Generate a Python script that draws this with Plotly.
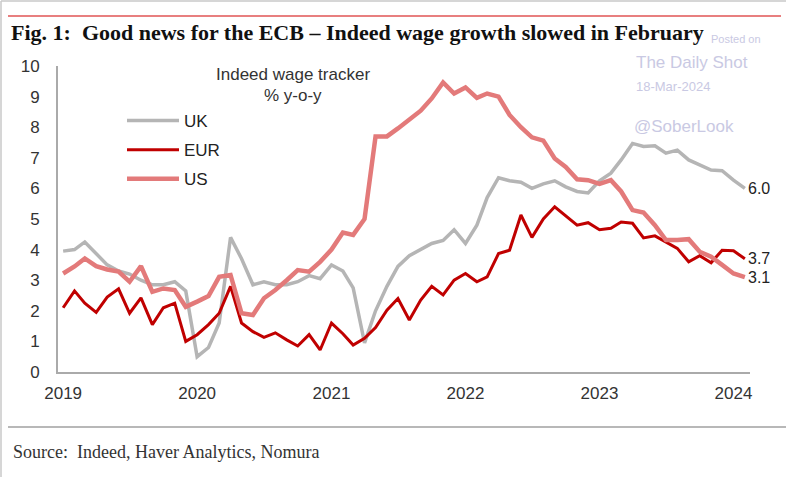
import pandas as pd
import plotly.graph_objects as go

# ---- data ----
dates = pd.date_range("2019-01-01", "2024-02-01", freq="MS")

uk = [3.95, 4.0, 4.25, 3.85, 3.5, 3.3, 3.2, 3.0, 2.85, 2.85, 2.95, 2.65,
      0.5, 0.8, 1.6, 4.4, 3.7, 2.85, 2.95, 2.85, 2.85, 2.95, 3.15, 3.05,
      3.5, 3.3, 2.75, 0.95, 2.0, 2.8, 3.45, 3.8, 4.0, 4.2, 4.3, 4.65,
      4.2, 4.8, 5.7, 6.35, 6.25, 6.2, 6.0, 6.15, 6.25, 6.05, 5.9, 5.85,
      6.25, 6.5, 6.93, 7.47, 7.37, 7.39, 7.15, 7.25, 6.93, 6.76, 6.6, 6.58,
      6.27, 6.0]

eur = [2.1, 2.65, 2.25, 1.95, 2.45, 2.72, 1.92, 2.42, 1.55, 2.1, 2.25, 1.0,
       1.22, 1.55, 1.92, 2.8, 1.6, 1.32, 1.13, 1.28, 1.05, 0.85, 1.22, 0.72,
       1.6, 1.25, 0.88, 1.1, 1.45, 2.02, 2.4, 1.7, 2.35, 2.8, 2.52, 3.0,
       3.22, 2.95, 3.11, 3.87, 3.98, 5.13, 4.4, 5.0, 5.4, 5.1, 4.8, 4.88,
       4.65, 4.7, 4.9, 4.86, 4.38, 4.45, 4.26, 4.04, 3.6, 3.8, 3.57, 3.98,
       3.96, 3.7]

us = [3.22, 3.45, 3.71, 3.46, 3.35, 3.28, 2.95, 3.46, 2.62, 2.73, 2.68, 2.13,
      2.3, 2.48, 3.11, 3.17, 1.92, 1.86, 2.41, 2.68, 3.0, 3.33, 3.28, 3.6,
      4.0, 4.56, 4.48, 5.0, 7.7, 7.7, 7.96, 8.24, 8.54, 8.94, 9.46, 9.1,
      9.3, 8.96, 9.1, 9.0, 8.4, 8.0, 7.67, 7.56, 6.98, 6.7, 6.3, 6.27,
      6.15, 6.27, 5.9, 5.29, 5.21, 4.8, 4.31, 4.31, 4.34, 3.93, 3.77, 3.5,
      3.22, 3.1]

series_names = ["UK", "EUR", "US"]
year_ticks = ["2019", "2020", "2021", "2022", "2023", "2024"]
y_ticks = list(range(0, 11))

title_text = "<b>Fig. 1:  Good news for the ECB – Indeed wage growth slowed in February</b>"
source_text = "Source:  Indeed, Haver Analytics, Nomura"

# ---- layout geometry (pixels) ----
W_FIG, H_FIG = 786, 477
L, R, T, B = 58, 750, 66, 372


def px(x):
    return (x - L) / (R - L)


def py(y):
    return (B - y) / (B - T)


colors = {"UK": "#b5b5b5", "EUR": "#c00000", "US": "#e37a7a"}
widths = {"UK": 3.5, "EUR": 3, "US": 4.5}
values = {"UK": uk, "EUR": eur, "US": us}

sans = "Liberation Sans"
serif = "Liberation Serif"

fig = go.Figure()
for name in series_names:
    fig.add_trace(go.Scatter(
        x=dates, y=values[name], mode="lines", name=name, legendgroup=name,
        line=dict(color=colors[name], width=widths[name]),
    ))

# end labels
for name in series_names:
    v = values[name][-1]
    fig.add_annotation(x=dates[-1], y=v, text=f"{v:.1f}", showarrow=False,
                       xanchor="left", yanchor="middle", xshift=1,
                       font=dict(family=sans, size=16, color="#222"))


def note(x, y, text, size, color, family=sans, xanchor="left"):
    fig.add_annotation(x=px(x), y=py(y), xref="paper", yref="paper", text=text,
                       showarrow=False, xanchor=xanchor, yanchor="middle",
                       font=dict(family=family, size=size, color=color))


# watermark
wm = "#c9c9e3"
note(709, 39, "Posted on", 11, wm)
note(634, 62, "The Daily Shot", 17, wm)
note(634, 86, "18-Mar-2024", 13, wm)
note(632, 127, "@SoberLook", 17, wm)

# chart sub-title
note(293, 74, "Indeed wage tracker", 17, "#333", xanchor="center")
note(293, 95, "% y-o-y", 17, "#333", xanchor="center")

# title and source
note(9, 33, title_text, 22, "#111", family=serif)
note(11, 452, source_text, 18, "#333", family=serif)

# decorative lines
shapes = [
    dict(type="line", xref="paper", yref="paper", x0=px(8), x1=px(781), y0=py(16), y1=py(16),
         line=dict(color="#e05555", width=1.5)),
    dict(type="line", xref="paper", yref="paper", x0=px(8), x1=px(786), y0=py(427), y1=py(427),
         line=dict(color="#a0a0a0", width=1.5)),
    dict(type="line", xref="paper", yref="paper", x0=px(1), x1=px(786), y0=py(1), y1=py(1),
         line=dict(color="#c8c8c8", width=1.5)),
    dict(type="line", xref="paper", yref="paper", x0=px(1), x1=px(1), y0=py(1), y1=py(477),
         line=dict(color="#c8c8c8", width=1.5)),
]

fig.update_layout(
    width=W_FIG, height=H_FIG,
    margin=dict(l=L, r=W_FIG - R, t=T, b=H_FIG - B, pad=0),
    paper_bgcolor="white", plot_bgcolor="white",
    shapes=shapes,
    showlegend=True,
    legend=dict(x=px(122), y=py(103), xanchor="left", yanchor="top",
                bgcolor="rgba(0,0,0,0)", tracegroupgap=4,
                font=dict(family=sans, size=17, color="#222"), itemwidth=52),
    xaxis=dict(
        range=["2018-12-18", "2024-02-15"],
        tickvals=[f"{y}-01-01" for y in year_ticks], ticktext=year_ticks,
        showgrid=False, zeroline=False, showline=True, linecolor="#aaaaaa", linewidth=2,
        ticks="", tickfont=dict(family=sans, size=17, color="#333"), ticklabelstandoff=5,
    ),
    yaxis=dict(
        range=[0, 10], tickvals=y_ticks,
        showgrid=False, zeroline=False, showline=True, linecolor="#aaaaaa", linewidth=2,
        ticks="", tickfont=dict(family=sans, size=17, color="#333"), ticklabelstandoff=13,
    ),
)

fig.write_html("out.html")
